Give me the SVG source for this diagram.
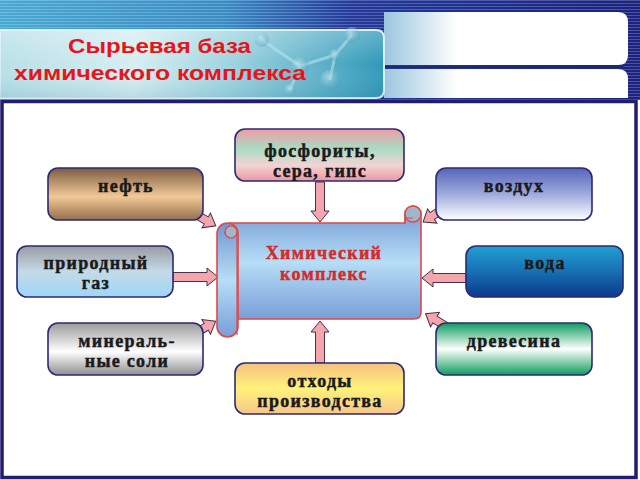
<svg xmlns="http://www.w3.org/2000/svg" width="640" height="480" viewBox="0 0 640 480">
<defs>
  <linearGradient id="gTop" x1="0" y1="0" x2="1" y2="0">
    <stop offset="0" stop-color="#49a9d2"/>
    <stop offset="0.35" stop-color="#3a8cc4"/>
    <stop offset="0.55" stop-color="#23399a"/>
    <stop offset="1" stop-color="#1b237e"/>
  </linearGradient>
  <pattern id="stripes" width="4" height="3" patternUnits="userSpaceOnUse">
    <rect width="4" height="1" fill="#ffffff" fill-opacity="0.22"/>
  </pattern>
  <linearGradient id="gTitle" x1="0" y1="0" x2="1" y2="0">
    <stop offset="0" stop-color="#b9e0e8"/>
    <stop offset="0.35" stop-color="#d6eef2"/>
    <stop offset="0.6" stop-color="#9ed4e0"/>
    <stop offset="1" stop-color="#2f98b8"/>
  </linearGradient>
  <linearGradient id="gTitleV" x1="0" y1="0" x2="0" y2="1">
    <stop offset="0" stop-color="#ffffff" stop-opacity="0.25"/>
    <stop offset="0.5" stop-color="#ffffff" stop-opacity="0"/>
    <stop offset="1" stop-color="#1b6f90" stop-opacity="0.15"/>
  </linearGradient>
  <linearGradient id="gWhite" x1="384" y1="0" x2="628" y2="0" gradientUnits="userSpaceOnUse">
    <stop offset="0" stop-color="#9cc6de"/>
    <stop offset="0.3" stop-color="#ffffff"/>
    <stop offset="1" stop-color="#ffffff"/>
  </linearGradient>
  <radialGradient id="gBall" cx="0.4" cy="0.35" r="0.7">
    <stop offset="0" stop-color="#d8f2f6" stop-opacity="0.9"/>
    <stop offset="1" stop-color="#3a9ab8" stop-opacity="0.5"/>
  </radialGradient>
  <linearGradient id="gNeft" x1="0" y1="0" x2="0" y2="1">
    <stop offset="0" stop-color="#7c5c42"/>
    <stop offset="0.55" stop-color="#f2c896"/>
    <stop offset="1" stop-color="#94704e"/>
  </linearGradient>
  <linearGradient id="gFosf" x1="0" y1="0" x2="0" y2="1">
    <stop offset="0" stop-color="#f09ca6"/>
    <stop offset="0.38" stop-color="#a8dcc2"/>
    <stop offset="0.7" stop-color="#f2d4d4"/>
    <stop offset="1" stop-color="#ee96a0"/>
  </linearGradient>
  <linearGradient id="gVozd" x1="0" y1="0" x2="0" y2="1">
    <stop offset="0" stop-color="#5666b8"/>
    <stop offset="0.5" stop-color="#9eaadc"/>
    <stop offset="1" stop-color="#ffffff"/>
  </linearGradient>
  <linearGradient id="gGaz" x1="0" y1="0" x2="0" y2="1">
    <stop offset="0" stop-color="#9a9aa2"/>
    <stop offset="0.5" stop-color="#c4dae8"/>
    <stop offset="1" stop-color="#9ed6f6"/>
  </linearGradient>
  <linearGradient id="gVoda" x1="0" y1="0" x2="0" y2="1">
    <stop offset="0" stop-color="#22a0d2"/>
    <stop offset="0.5" stop-color="#1670b4"/>
    <stop offset="1" stop-color="#0b3a8a"/>
  </linearGradient>
  <linearGradient id="gSoli" x1="0" y1="0" x2="0" y2="1">
    <stop offset="0" stop-color="#9a9a9a"/>
    <stop offset="0.55" stop-color="#ffffff"/>
    <stop offset="1" stop-color="#8e8e8e"/>
  </linearGradient>
  <linearGradient id="gOtx" x1="0" y1="0" x2="0" y2="1">
    <stop offset="0" stop-color="#f6c07e"/>
    <stop offset="0.5" stop-color="#fff27a"/>
    <stop offset="1" stop-color="#f8c68c"/>
  </linearGradient>
  <linearGradient id="gDrev" x1="0" y1="0" x2="0" y2="1">
    <stop offset="0" stop-color="#0e9c5e"/>
    <stop offset="0.5" stop-color="#ffffff"/>
    <stop offset="1" stop-color="#0e9c5e"/>
  </linearGradient>
  <linearGradient id="gScroll" x1="0" y1="0" x2="0" y2="1">
    <stop offset="0" stop-color="#7096d2"/>
    <stop offset="0.5" stop-color="#b6def6"/>
    <stop offset="1" stop-color="#789ed8"/>
  </linearGradient>
  <clipPath id="clipFosf"><rect x="235" y="129" width="169" height="52" rx="10"/></clipPath>
  <style>
    .box { stroke: #2b2a78; stroke-width: 1.6; }
    .lbl { font-family: "Liberation Serif", "DejaVu Serif", serif; font-weight: bold; font-size: 18px; letter-spacing: 1.3px; fill: #1a1a1a; stroke: #1a1a1a; stroke-width: 0.45; text-anchor: middle; }
    .title { font-family: "Liberation Sans", Arial, sans-serif; font-weight: bold; font-size: 21px; fill: #e8141a; }
    .arrow { fill: #f4a6ae; stroke: #4a3048; stroke-width: 1; stroke-linejoin: miter; }
    .scroll { stroke: #e04848; stroke-width: 1.6; }
    .ctext { font-family: "Liberation Serif", "DejaVu Serif", serif; font-weight: bold; font-size: 18px; letter-spacing: 1.3px; fill: #d42a2a; stroke: #d42a2a; stroke-width: 0.45; text-anchor: middle; }
  </style>
</defs>

<!-- header background -->
<rect x="0" y="0" width="640" height="100" fill="url(#gTop)"/>
<rect x="0" y="0" width="640" height="100" fill="url(#stripes)"/>
<path d="M384,12 H618 Q628,12 628,22 V55 Q628,65 618,65 H384 Z" fill="url(#gWhite)"/>
<rect x="384" y="66" width="240" height="2" fill="#1f2a6e"/>
<path d="M384,69 H618 Q628,69 628,79 V98 H384 Z" fill="url(#gWhite)"/>

<!-- title panel -->
<g id="title">
  <path d="M0,30 H376 Q384,30 384,38 V90 Q384,98 376,98 H0 Z" fill="url(#gTitle)" stroke="#d8eef4" stroke-width="2"/>
  <path d="M0,30 H376 Q384,30 384,38 V90 Q384,98 376,98 H0 Z" fill="url(#gTitleV)"/>
  <g opacity="0.55" stroke="#bfe6ee" stroke-width="3" fill="none">
    <line x1="262" y1="40" x2="300" y2="66"/>
    <line x1="300" y1="66" x2="335" y2="55"/>
    <line x1="335" y1="55" x2="352" y2="35"/>
    <line x1="335" y1="55" x2="330" y2="80"/>
    <line x1="300" y1="66" x2="290" y2="90"/>
  </g>
  <g opacity="0.6">
    <circle cx="262" cy="40" r="7" fill="url(#gBall)"/>
    <circle cx="300" cy="66" r="9" fill="url(#gBall)"/>
    <circle cx="352" cy="35" r="8" fill="url(#gBall)"/>
    <circle cx="335" cy="55" r="6" fill="url(#gBall)"/>
    <circle cx="330" cy="80" r="10" fill="url(#gBall)"/>
    <circle cx="290" cy="90" r="6" fill="url(#gBall)"/>
  </g>
  <text class="title" x="68" y="53" textLength="183" lengthAdjust="spacingAndGlyphs">Сырьевая база</text>
  <text class="title" x="14" y="80" textLength="292" lengthAdjust="spacingAndGlyphs">химического комплекса</text>
</g>

<!-- main frame -->
<rect x="0" y="100" width="640" height="380" fill="#ffffff"/>
<rect x="2" y="101.5" width="634" height="376" fill="none" stroke="#231d6e" stroke-width="3.5"/>

<!-- connectors -->
<g id="connectors">
  <path class="arrow" d="M0,-4.5 H29 V-9 L40,0 L29,9 V4.5 H0 Z" transform="translate(320,182) rotate(90)"/>
  <path class="arrow" d="M0,-4.5 H31 V-9 L42,0 L31,9 V4.5 H0 Z" transform="translate(320,363) rotate(-90)"/>
  <path class="arrow" d="M0,-4.5 H34 V-9 L45,0 L34,9 V4.5 H0 Z" transform="translate(173,277)"/>
  <path class="arrow" d="M0,-4.5 H33 V-9 L44,0 L33,9 V4.5 H0 Z" transform="translate(466,278) rotate(180)"/>
  <path class="arrow" d="M0,-4 H21 V-8.5 L32,0 L21,8.5 V4 H0 Z" transform="translate(188,210) rotate(29.7)"/>
  <path class="arrow" d="M0,-4 H20 V-8.5 L31,0 L20,8.5 V4 H0 Z" transform="translate(189,337) rotate(-30.6)"/>
  <path class="arrow" d="M0,-4 H20 V-8.5 L31,0 L20,8.5 V4 H0 Z" transform="translate(449,205) rotate(146.8)"/>
  <path class="arrow" d="M0,-4 H20 V-8.5 L31,0 L20,8.5 V4 H0 Z" transform="translate(452,330) rotate(211.6)"/>
</g>

<!-- nodes -->
<g id="node-fosfority">
  <rect class="box" x="235" y="129" width="169" height="52" rx="10" fill="url(#gFosf)"/>
  <g clip-path="url(#clipFosf)">
    <text class="lbl" x="320" y="157">фосфориты,</text>
    <text class="lbl" x="320" y="177">сера, гипс</text>
  </g>
</g>
<g id="node-neft">
  <rect class="box" x="48" y="168" width="155" height="52" rx="10" fill="url(#gNeft)"/>
  <text class="lbl" x="126" y="192">нефть</text>
</g>
<g id="node-vozduh">
  <rect class="box" x="436" y="168" width="156" height="52" rx="10" fill="url(#gVozd)"/>
  <text class="lbl" x="514" y="192">воздух</text>
</g>
<g id="node-gaz">
  <rect class="box" x="17" y="246" width="156" height="51" rx="10" fill="url(#gGaz)"/>
  <text class="lbl" x="96" y="269">природный</text>
  <text class="lbl" x="96" y="289">газ</text>
</g>
<g id="node-voda">
  <rect class="box" x="466" y="246" width="157" height="51" rx="10" fill="url(#gVoda)"/>
  <text class="lbl" x="545" y="269">вода</text>
</g>
<g id="node-soli">
  <rect class="box" x="48" y="323" width="155" height="52" rx="10" fill="url(#gSoli)"/>
  <text class="lbl" x="127" y="347">минераль-</text>
  <text class="lbl" x="127" y="367">ные соли</text>
</g>
<g id="node-drevesina">
  <rect class="box" x="436" y="323" width="156" height="52" rx="10" fill="url(#gDrev)"/>
  <text class="lbl" x="514" y="347">древесина</text>
</g>
<g id="node-othody">
  <rect class="box" x="235" y="363" width="169" height="51" rx="10" fill="url(#gOtx)"/>
  <text class="lbl" x="320" y="387">отходы</text>
  <text class="lbl" x="320" y="407">производства</text>
</g>

<!-- central scroll -->
<g id="node-kompleks">
  <path class="scroll" d="M230,223 H405 V214 A8,8 0 0 1 421,214 V312 Q421,319 414,319 H236 Z" fill="url(#gScroll)"/>
  <circle cx="413" cy="214" r="8" fill="#a2b6ca" stroke="#e04848" stroke-width="1.4"/>
  <path d="M405,214 V223 M405,218 H413" fill="none" stroke="#e04848" stroke-width="1.2"/>
  <rect class="scroll" x="217" y="223" width="21" height="114" rx="10.5" fill="url(#gScroll)"/>
  <circle cx="231" cy="232" r="6" fill="#a2b6ca" stroke="#e04848" stroke-width="1.2"/>
  <path d="M225,232 V234 M237,232 V335" fill="none" stroke="#e04848" stroke-width="1.2"/>
  <text class="ctext" x="324" y="259">Химический</text>
  <text class="ctext" x="324" y="280">комплекс</text>
</g>
</svg>
